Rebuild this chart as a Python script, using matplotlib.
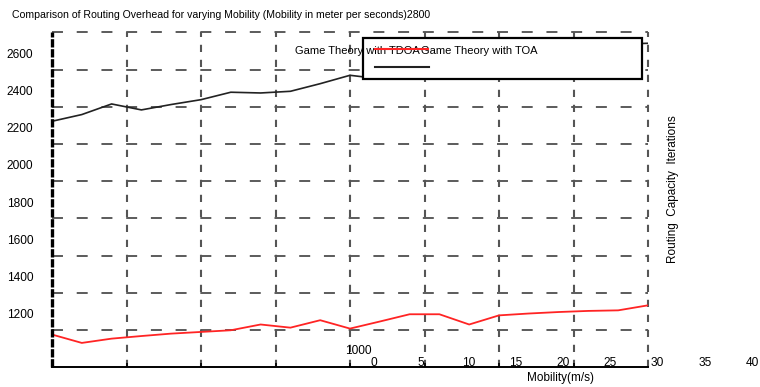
import matplotlib
matplotlib.use("Agg")
import matplotlib.pyplot as plt
from matplotlib.patches import Rectangle
from matplotlib.lines import Line2D
from matplotlib.transforms import ScaledTranslation

plt.rcParams['font.family'] = ['Liberation Sans', 'DejaVu Sans']
plt.rcParams['lines.scale_dashes'] = False

# ---- data ----
title_text = "Comparison of Routing Overhead for varying Mobility (Mobility in meter per seconds)"
series_names = ["Game Theory with TDOA", "Game Theory with TOA"]
sample_pos = list(range(21))
tdoa = [1076, 1031, 1054, 1068, 1081, 1090, 1099, 1130, 1113, 1153, 1108,
        1146, 1185, 1185, 1130, 1179, 1189, 1197, 1203, 1206, 1233]
toa = [2222, 2258, 2315, 2283, 2312, 2338, 2378, 2374, 2383, 2424, 2469,
       2450, 2475, 2500, 2525, 2550, 2575, 2598, 2618, 2636, 2641]
ytick_vals = [1200, 1400, 1600, 1800, 2000, 2200, 2400, 2600]
ytick_extra = ["1000", "2800"]
xtick_vals = [0, 5, 10, 15, 20, 25, 30, 35, 40]
xlabel = "Mobility(m/s)"
ylabel = "Routing  Capacity  Iterations"
hgrid_vals = [1100, 1300, 1500, 1700, 1900, 2100, 2300, 2500, 2700]
vgrid_vals = [2.5, 5, 7.5, 10, 12.5, 15, 17.5, 20]

W, H = 760, 387
fig = plt.figure(figsize=(W / 100, H / 100), dpi=100)

def fx(x):
    return x / W

def fy(y):
    return 1 - y / H

ax = fig.add_axes([fx(52), fy(367.3), (648 - 52) / W, (367.3 - 32.3) / H])
ax.set_xlim(0, 20)
ax.set_ylim(900, 2700)
for s in ax.spines.values():
    s.set_visible(False)

grid_col = '#555555'
for v in hgrid_vals:
    ax.axhline(v, color=grid_col, lw=1.35, linestyle=(0, (7.9, 9.9)), zorder=1, clip_on=False)
for v in vgrid_vals:
    ax.axvline(v, color=grid_col, lw=1.5, linestyle=(0, (5.2, 5.6)), zorder=1, clip_on=False)

# left spine (thick dashed black) and bottom spine (solid)
ax.axvline(0, color='black', lw=2.4, linestyle=(0, (6, 1.2)), zorder=3, clip_on=False)
ax.axhline(900, color='black', lw=1.4, zorder=3, clip_on=False)

ax.plot(sample_pos, toa, color='#222222', lw=1.2, zorder=2)
ax.plot(sample_pos, tdoa, color='#ff2424', lw=1.3, zorder=2)

ax.set_xticks(vgrid_vals[:-1])
ax.tick_params(axis='x', direction='in', length=3, width=1.2, color='black', labelbottom=False)
ax.set_yticks(ytick_vals)
ax.set_yticklabels([str(v) for v in ytick_vals])
ax.tick_params(axis='y', length=0, pad=13.5, labelsize=8.6)
for lab in ax.get_yticklabels():
    lab.set_transform(lab.get_transform() + ScaledTranslation(0, -2.2 / 100, fig.dpi_scale_trans))

# secondary x tick-label axis
ax2 = fig.add_axes([fx(374), fy(357.5), (752 - 374) / W, 0.0001])
ax2.set_xlim(0, 40)
ax2.set_xticks(xtick_vals)
ax2.set_xticklabels([str(v) for v in xtick_vals])
ax2.tick_params(axis='x', length=0, pad=0, labelsize=8.6)
ax2.set_yticks([])
ax2.patch.set_visible(False)
for s in ax2.spines.values():
    s.set_visible(False)

# extra stray labels
fig.text(fx(358), fy(350.7), ytick_extra[0], fontsize=8.6, ha='center', va='center')
fig.text(fx(12), fy(15), title_text + ytick_extra[1], fontsize=7.55, ha='left', va='center')

fig.text(fx(561), fy(378.5), xlabel, fontsize=8.5, ha='center', va='center')
fig.text(fx(673), fy(189), ylabel, fontsize=8.5, ha='center', va='center', rotation=90)

# legend (manual)
box = Rectangle((fx(362.7), fy(79.3)), (641.7 - 362.7) / W, (79.3 - 38.3) / H,
                transform=fig.transFigure, facecolor='white', edgecolor='black', lw=1.6, zorder=5)
fig.add_artist(box)
fig.text(fx(295), fy(50.5), series_names[0], fontsize=8.0, ha='left', va='center', zorder=6)
fig.text(fx(421), fy(50.5), series_names[1], fontsize=8.0, ha='left', va='center', zorder=6)
fig.add_artist(Line2D([fx(375), fx(428)], [fy(49), fy(49)], transform=fig.transFigure,
                      color='#ff2424', lw=1.5, zorder=7))
fig.add_artist(Line2D([fx(375), fx(429)], [fy(67.3), fy(67.3)], transform=fig.transFigure,
                      color='#222222', lw=1.5, zorder=7))

fig.savefig("out.png", dpi=100)
